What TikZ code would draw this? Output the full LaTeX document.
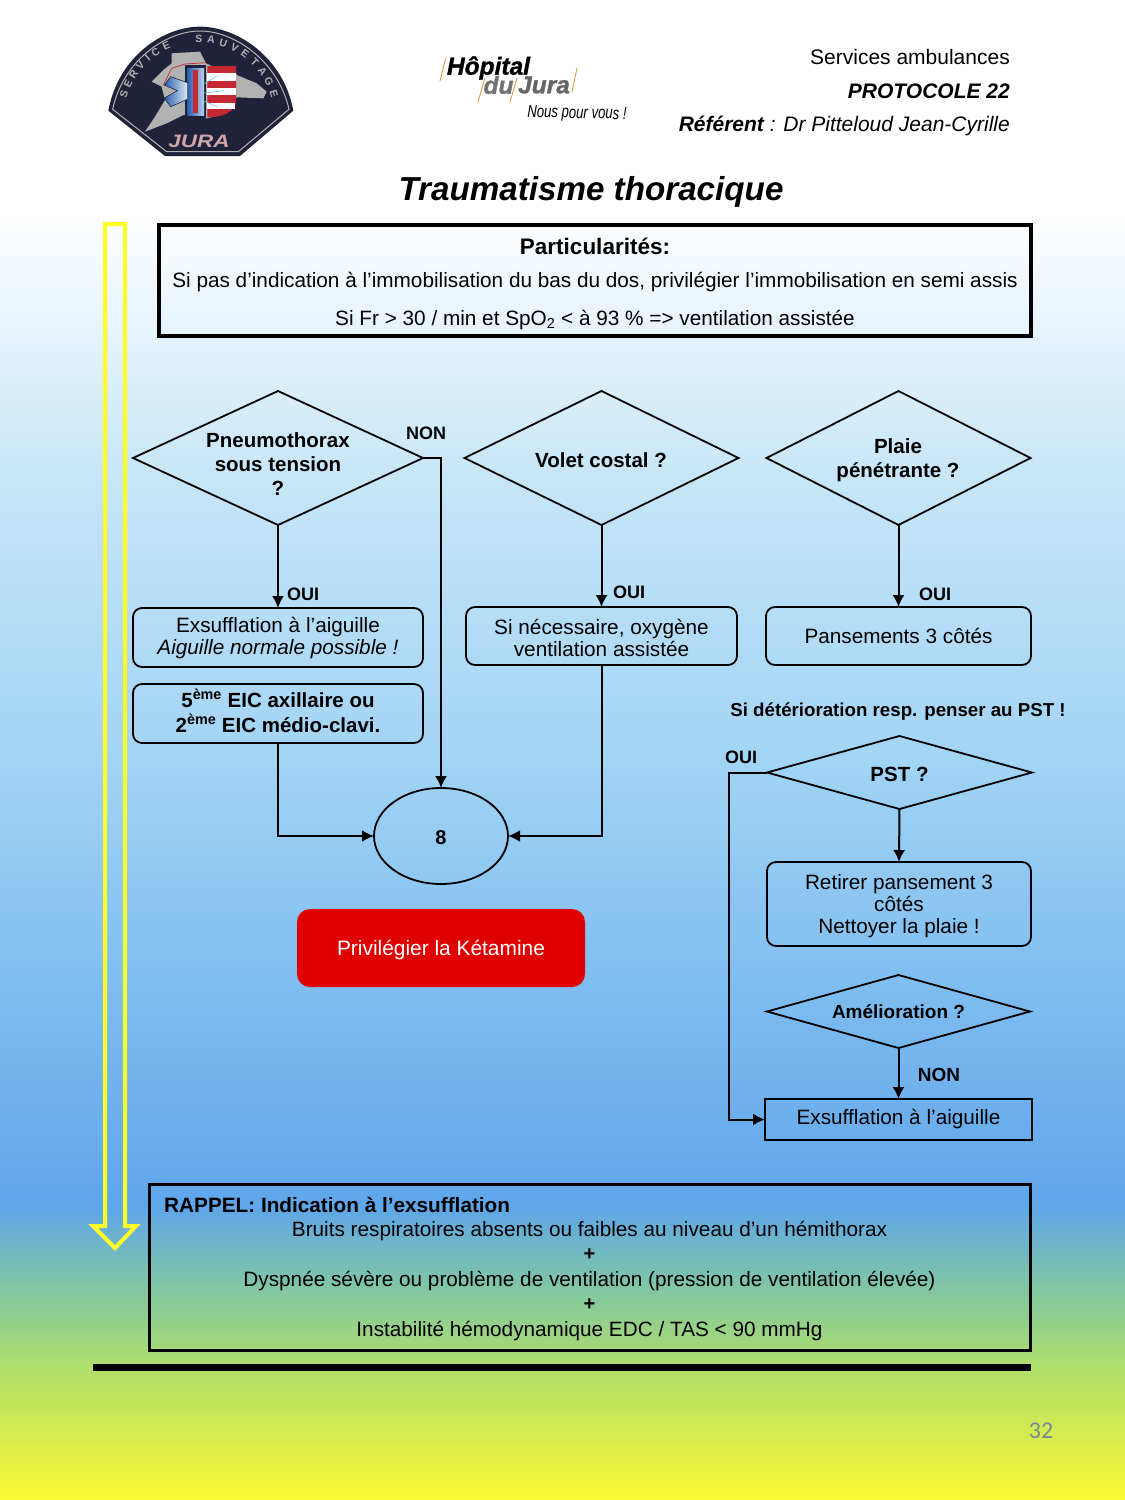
\documentclass[tikz,border=0pt]{standalone}
\usepackage{fontspec}
\setmainfont{Liberation Sans}
\newfontfamily\pagefont{Carlito}
\newfontfamily\logofont[ItalicFeatures={FakeBold=1.2}]{Liberation Sans Bold}
\usetikzlibrary{shapes.geometric,arrows.meta}
\pgfdeclareverticalshading{pagebg}{100bp}{
 rgb(0bp)=(0.98,0.98,0.2);
 rgb(25bp)=(0.98,0.98,0.2);
 rgb(29.4bp)=(0.69,0.87,0.42);
 rgb(32bp)=(0.51,0.78,0.63);
 rgb(34.83bp)=(0.37,0.65,0.92);
 rgb(49.5bp)=(0.63,0.83,0.96);
 rgb(59bp)=(0.78,0.90,0.97);
 rgb(68bp)=(1,1,1);
 rgb(100bp)=(1,1,1)}
\definecolor{navy}{RGB}{32,34,58}
\definecolor{ketred}{RGB}{224,0,0}
\definecolor{ylw}{RGB}{255,255,40}
\definecolor{patchgray}{RGB}{178,178,178}
\definecolor{shred}{RGB}{196,40,50}
\definecolor{stblue}{RGB}{40,95,175}
\definecolor{jurapink}{RGB}{205,165,170}
\definecolor{pagenum}{RGB}{120,135,150}
\definecolor{slashtan}{RGB}{215,160,70}
\tikzset{
 x=1pt,y=-1pt,
 dia/.style={draw=black,line width=1.8pt,shape=diamond,inner sep=0pt,outer sep=0pt},
 lbl/.style={align=center,inner sep=0pt,font=\fontsize{20.75}{22}\selectfont},
 blbl/.style={align=center,inner sep=0pt,font=\fontsize{20.5}{24}\selectfont\bfseries},
 tag/.style={inner sep=0pt,font=\fontsize{18}{20}\selectfont\bfseries},
 boxtxt/.style={align=center,inner sep=0pt,font=\fontsize{20.75}{22}\selectfont},
 rbox/.style={draw=black,line width=1.8pt,rounded corners=9pt,inner sep=0pt,outer sep=0pt},
 link/.style={draw=black,line width=2pt,-{Latex[length=12pt,width=12pt]}},
 patchletter/.style={inner sep=0pt,text=patchgray,font=\fontsize{10.5}{11}\selectfont\bfseries},
}
\begin{document}
\begin{tikzpicture}
\useasboundingbox (0,0) rectangle (1125,1500);
\shade[shading=pagebg] (0,0) rectangle (1125,1500);

% --- patch logo (drawn in 3x crop coordinates)
\begin{scope}[shift={(100,20)},scale=1/3]
\path[fill=navy] (25,272) .. controls (55,110) and (190,20) .. (300,20) .. controls (410,20) and (550,110) .. (580,272) -- (420,408) -- (195,408) -- cycle;
\path[draw=patchgray,line width=1pt] (38,268) .. controls (68,125) and (195,33) .. (300,33) .. controls (405,33) and (535,125) .. (567,268) -- (415,395) -- (200,395) -- cycle;
\path[fill=patchgray] (215,100) -- (300,95) -- (318,130) -- (340,140) -- (405,140) -- (410,165) -- (470,190) -- (500,215) -- (490,235) -- (410,232) -- (380,280) -- (320,295) -- (250,285) -- (200,310) -- (135,335) -- (165,290) -- (195,240) -- (185,200) -- (155,185) -- (190,150) -- (215,130) -- cycle;
\path[draw=shred,line width=.7pt] (190,195) -- (215,145) -- (255,132) -- (320,128);
\path[fill=shred] (322,138) -- (408,138) -- (408,250) .. controls (400,280) and (360,292) .. (322,292) -- cycle;
\path[fill=white] (322,160) rectangle (408,182);
\path[fill=white] (322,205) rectangle (408,226);
\path[fill=white] (322,248) rectangle (406,266);
\path[fill=navy] (256,136) rectangle (318,295);
\path[left color=stblue,right color=stblue!30!white] (262,145) rectangle (312,286);
\path[left color=stblue,right color=stblue!15!white,draw=navy,line width=.6pt] (262,188) -- (212,170) -- (193,195) -- (232,212) -- (193,234) -- (212,260) -- (262,238) -- cycle;
\path[fill=shred] (280,150) rectangle (294,280);
\path[draw=cyan!60!white,line width=.6pt] (305,195) -- (352,168) (305,220) -- (372,212) (305,240) -- (350,260);
\end{scope}
\foreach \ch/\ang [count=\i] in {S/-72.5,E/-64.5,R/-56.4,V/-48.3,I/-40.7,C/-33.5,E/-24.5,S/0,A/9,U/18,V/27,E/36,T/45,A/54,G/63,E/72.5}{
 \node[patchletter,rotate=-\ang] (pl\i) at ({199+78.6*sin(\ang)},{117.6-78.6*cos(\ang)}) {\ch};
}
\node[inner sep=0pt,xscale=1.25,text=jurapink,font=\fontsize{18}{18}\selectfont\bfseries\itshape] (jura) at (199,141) {JURA};

% --- hospital logo
\node[inner sep=0pt,font=\logofont\fontsize{24.5}{24}\selectfont\itshape] (hop) at (488.5,68) {Hôpital};
\node[inner sep=0pt,font=\logofont\fontsize{24.5}{24}\selectfont\itshape,text=black!55] (dua) at (498.5,85) {du};
\node[inner sep=0pt,font=\logofont\fontsize{24.5}{24}\selectfont\itshape,text=black!60] (jur) at (544,85) {Jura};
\node[inner sep=0pt,xscale=.82,yscale=1.1,rotate=-1,font=\fontsize{16}{17}\selectfont\itshape] (nous) at (577,114) {Nous pour vous !};
\foreach \xa/\ya/\xb/\yb in {445.7/58.3/440/81,485/78/478/102,517/78/510/102,577/68/572/92} {\path[draw=slashtan,line width=.9pt] (\xa,\ya) -- (\xb,\yb);}

% --- header
\node[anchor=east,inner sep=0pt,font=\fontsize{21}{24}\selectfont] (h1) at (1010,57) {Services ambulances};
\node[anchor=east,inner sep=0pt,font=\fontsize{21}{24}\selectfont\bfseries\itshape] (h2) at (1010,91) {PROTOCOLE 22};
\node[anchor=east,inner sep=0pt,font=\fontsize{21}{24}\selectfont\itshape] (h3) at (1010,126) {\textbf{Référent} : Dr Pitteloud Jean-Cyrille};
\node[inner sep=0pt,font=\fontsize{33.2}{36}\selectfont\bfseries\itshape] (title) at (591,192) {Traumatisme thoracique};

% --- yellow arrow
\path[draw=ylw,line width=4pt,miter limit=10] (105,224) -- (125,224) -- (125,1226) -- (136,1226) -- (115,1248) -- (93,1226) -- (105,1226) -- cycle;

% --- particularités
\node[draw=black,line width=4pt,minimum width=872pt,minimum height=111pt,inner sep=0pt] (part) at (595,280.5) {};
\node[blbl,font=\fontsize{22.5}{24}\selectfont\bfseries] (p1) at (595,246) {Particularités:};
\node[lbl] (p2) at (595,282) {Si pas d’indication à l’immobilisation du bas du dos, privilégier l’immobilisation en semi assis};
\node[lbl] (p3) at (595,320) {Si Fr > 30 / min et SpO\textsubscript{2} < à 93 \% => ventilation assistée};

% --- diamonds
\node[dia,minimum width=290pt,minimum height=134pt,aspect=2.164] (d1) at (278,458) {};
\node[blbl] (d1t) at (278,464) {Pneumothorax\\sous tension\\?};
\node[dia,minimum width=274pt,minimum height=134pt,aspect=2.045] (d2) at (601.5,458) {};
\node[blbl] (d2t) at (601,460) {Volet costal ?};
\node[dia,minimum width=264pt,minimum height=134pt,aspect=1.97] (d3) at (898.5,458) {};
\node[blbl] (d3t) at (898,460) {Plaie\\pénétrante ?};
\node[dia,minimum width=265pt,minimum height=73pt,aspect=3.63] (pst) at (899.5,772.5) {};
\node[blbl] (pstt) at (899.5,774) {PST ?};
\node[dia,minimum width=263pt,minimum height=73pt,aspect=3.6] (ame) at (898.5,1011.5) {};
\node[blbl,font=\fontsize{19}{22}\selectfont\bfseries] (amet) at (898.5,1012) {Amélioration ?};

% --- boxes
\node[rbox,minimum width=290pt,minimum height=59pt] (b1) at (278,637.5) {};
\node[boxtxt] (b1t) at (278,638) {Exsufflation à l’aiguille\\\itshape Aiguille normale possible !};
\node[rbox,minimum width=290pt,minimum height=59pt] (b2) at (278,713.5) {};
\node[boxtxt,font=\fontsize{20.5}{25}\selectfont\bfseries] (b2t) at (278,711) {5\textsuperscript{ème} EIC axillaire ou\\2\textsuperscript{ème} EIC médio-clavi.};
\node[rbox,minimum width=271pt,minimum height=58pt] (b3) at (601.5,636) {};
\node[boxtxt] (b3t) at (601.5,638) {Si nécessaire, oxygène\\ventilation assistée};
\node[rbox,minimum width=265pt,minimum height=58pt] (b4) at (898.5,636) {};
\node[boxtxt] (b4t) at (898.5,636) {Pansements 3 côtés};
\node[rbox,minimum width=264pt,minimum height=84pt] (b5) at (899,904) {};
\node[boxtxt] (b5t) at (899,906) {Retirer pansement 3\\côtés\\Nettoyer la plaie !};
\node[draw=black,line width=1.8pt,minimum width=267pt,minimum height=41pt,inner sep=0pt,outer sep=0pt] (b6) at (898.5,1119.5) {};
\node[boxtxt] (b6t) at (898.5,1118.5) {Exsufflation à l’aiguille};
\node[draw=black,line width=1.8pt,shape=ellipse,minimum width=134pt,minimum height=96pt,inner sep=0pt,outer sep=0pt] (c8) at (441,836) {};
\node[inner sep=0pt,font=\fontsize{20}{22}\selectfont\bfseries] (c8t) at (441,838) {8};
\node[fill=ketred,rounded corners=13pt,minimum width=288pt,minimum height=78pt,inner sep=0pt] (ket) at (441,948) {};
\node[inner sep=0pt,text=white,font=\fontsize{20.9}{22}\selectfont] (kett) at (441,950) {Privilégier la Kétamine};

% --- tags
\node[tag] (n1) at (426,433) {NON};
\node[tag] (o1) at (303,594) {OUI};
\node[tag] (o2) at (629,592) {OUI};
\node[tag] (o3) at (935,594) {OUI};
\node[tag] (o4) at (741,757) {OUI};
\node[tag,font=\fontsize{19}{20}\selectfont\bfseries] (n2) at (939,1075) {NON};
\node[tag,font=\fontsize{18.7}{20}\selectfont\bfseries] (det) at (898,712) {Si détérioration resp. penser au PST !};

% --- connectors
\coordinate (c1) at (441,458);
\coordinate (c2) at (729,772.5);
\draw[link] (d1.south) -- (b1.north);
\draw[link] (d1.east) -- (c1) -- (c8.north);
\draw[link] (b2.south) |- (c8.west);
\draw[link] (d2.south) -- (b3.north);
\draw[link] (b3.south) |- (c8.east);
\draw[link] (d3.south) -- (b4.north);
\draw[link] (pst.south) -- (b5.north);
\draw[link] (ame.south) -- (b6.north);
\draw[link] (pst.west) -- (c2) |- (b6.west);

% --- rappel
\node[draw=black,line width=3pt,minimum width=881pt,minimum height=166pt,inner sep=0pt] (rap) at (590,1267.5) {};
\node[anchor=west,blbl,font=\fontsize{20.75}{22}\selectfont\bfseries] (r0) at (164,1205) {RAPPEL: Indication à l’exsufflation};
\node[lbl] (r1) at (589.5,1231) {Bruits respiratoires absents ou faibles au niveau d’un hémithorax};
\node[lbl,font=\fontsize{20}{22}\selectfont\bfseries] (r2) at (589.5,1255) {+};
\node[lbl] (r3) at (589.5,1281) {Dyspnée sévère ou problème de ventilation (pression de ventilation élevée)};
\node[lbl,font=\fontsize{20}{22}\selectfont\bfseries] (r4) at (589.5,1305) {+};
\node[lbl] (r5) at (589.5,1331) {Instabilité hémodynamique EDC / TAS < 90 mmHg};

% --- foot
\path[fill=black] (93,1364) rectangle (1031,1371);
\node[inner sep=0pt,text=pagenum,font=\pagefont\fontsize{24}{26}\selectfont] (pg) at (1041,1431) {32};
\end{tikzpicture}
\end{document}
